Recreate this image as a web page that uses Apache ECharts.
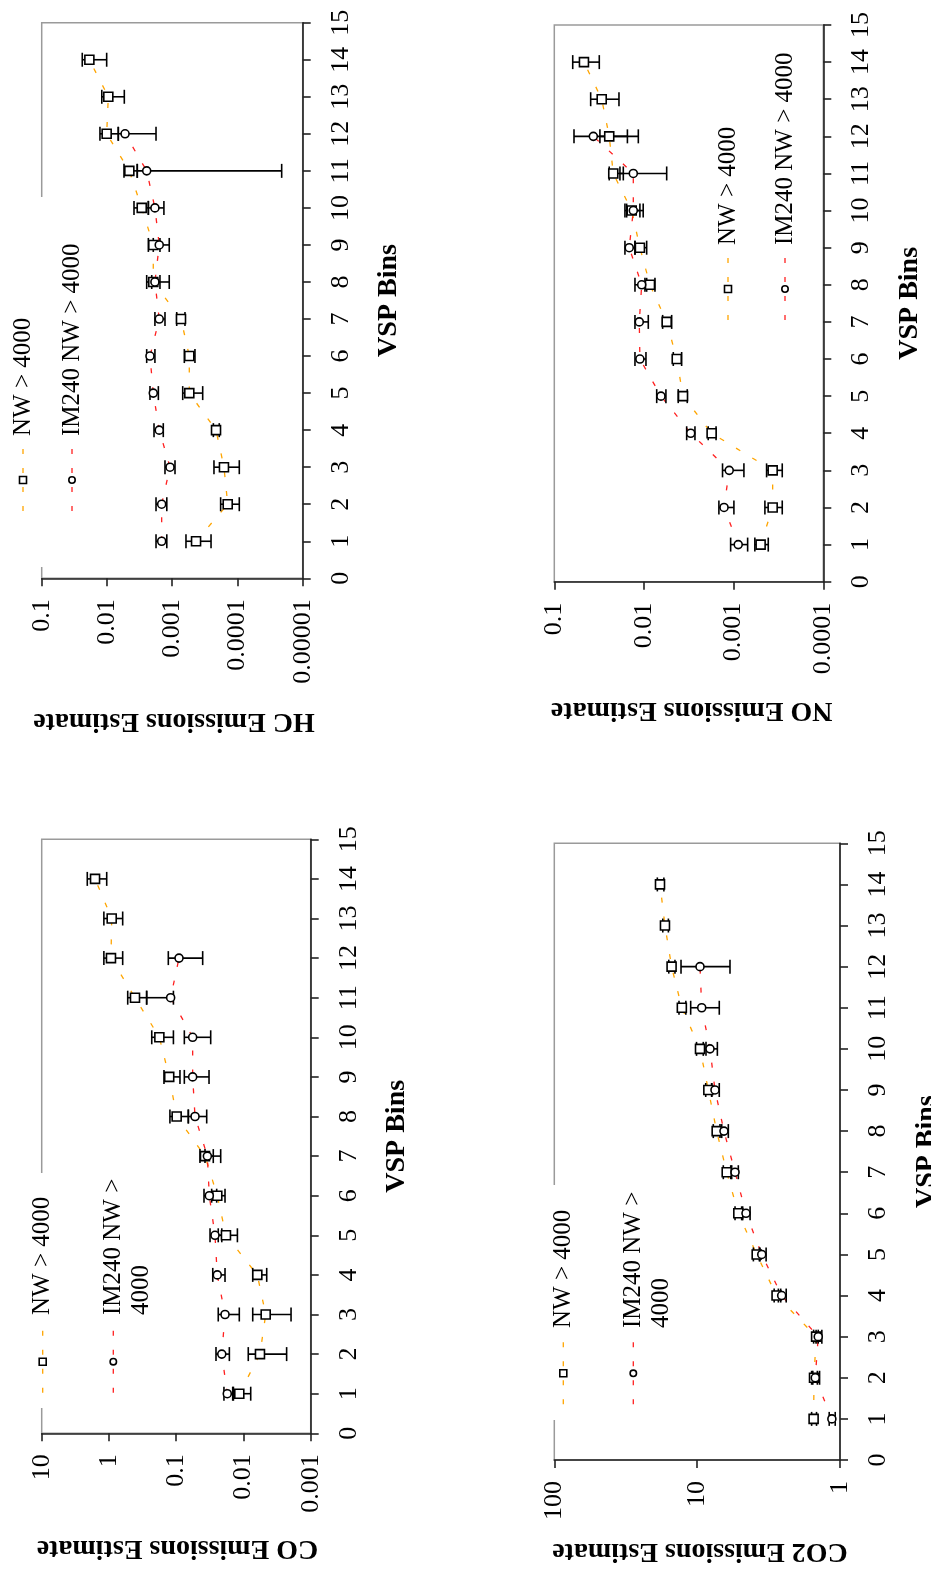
<!DOCTYPE html>
<html><head><meta charset="utf-8">
<script src="https://cdn.jsdelivr.net/npm/echarts@6/dist/echarts.min.js"></script>
<style>html,body{margin:0;padding:0;background:#fff}#main{width:931px;height:1585px}</style>
</head><body><div id="main"></div>
<script>
// ---------------- DATA ----------------
const vspNW = [1,2,3,4,5,6,7,8,9,10,11,12,13,14];
const vspIM = [1,2,3,4,5,6,7,8,9,10,11,12];
const vspTicks = ['0','1','2','3','4','5','6','7','8','9','10','11','12','13','14','15'];
const seriesNames = ['NW > 4000', 'IM240 NW > 4000'];

// HC
const hcTicks = ['0.00001','0.0001','0.001','0.01','0.1'];
const hcNW     = [0.000431,0.000141,0.000161,0.000213,0.000547,0.000547,0.000733,0.00195,0.00195,0.00293,0.00454,0.0101,0.00953,0.0186];
const hcNWLow  = [0.000254,0.0000937,0.0000937,0.000190,0.000341,0.000448,0.000637,0.00154,0.00154,0.00232,0.00343,0.0067,0.00542,0.0101];
const hcNWHigh = [0.000615,0.000181,0.000229,0.000234,0.000690,0.000652,0.000853,0.00246,0.00232,0.00385,0.00548,0.0128,0.0120,0.0239];
const hcIM     = [0.00145,0.00145,0.00108,0.00158,0.00195,0.00219,0.00158,0.00184,0.00158,0.00184,0.00246,0.00528];
const hcIMLow  = [0.00121,0.00121,0.000906,0.00137,0.00163,0.00184,0.00129,0.00111,0.00111,0.00134,0.000021,0.00177];
const hcIMHigh = [0.00177,0.00177,0.00129,0.00190,0.00219,0.00246,0.00184,0.00206,0.00195,0.00232,0.00343,0.0067];

// NO
const noTicks = ['0.0001','0.001','0.01','0.1'];
const noNW     = [0.000500,0.000367,0.000367,0.00176,0.00367,0.00431,0.00558,0.00857,0.0111,0.0137,0.0220,0.0244,0.0296,0.0467];
const noNWLow  = [0.000411,0.000287,0.000287,0.00157,0.00329,0.00380,0.00491,0.00754,0.00933,0.0102,0.0170,0.01156,0.0190,0.0315];
const noNWHigh = [0.000580,0.000448,0.000429,0.00192,0.00415,0.00471,0.00619,0.00975,0.0126,0.0163,0.0244,0.0310,0.0393,0.0623];
const noIM     = [0.000889,0.00128,0.00112,0.00301,0.00646,0.0111,0.01128,0.0106,0.0146,0.01315,0.01315,0.0367];
const noIMLow  = [0.000698,0.000993,0.000768,0.00270,0.00569,0.00950,0.00895,0.00933,0.0126,0.0111,0.00558,0.0153];
const noIMHigh = [0.00108,0.00146,0.00133,0.00334,0.00721,0.0126,0.0126,0.0126,0.0163,0.0156,0.01853,0.0603];

// CO
const coTicks = ['0.001','0.01','0.1','1','10'];
const coNW     = [0.01153,0.00568,0.00467,0.00622,0.0182,0.0245,0.0373,0.0984,0.127,0.178,0.410,0.933,0.910,1.61];
const coNWLow  = [0.0078,0.00228,0.00196,0.00451,0.0123,0.0188,0.0281,0.066,0.0879,0.110,0.275,0.625,0.625,1.08];
const coNWHigh = [0.01445,0.00848,0.00728,0.00728,0.0237,0.0297,0.0443,0.124,0.152,0.231,0.526,1.19,1.19,2.10];
const coIM     = [0.0174,0.0210,0.0188,0.0245,0.0265,0.0322,0.0344,0.0525,0.0569,0.0569,0.121,0.0908];
const coIMLow  = [0.0141,0.0162,0.01153,0.0188,0.0210,0.0250,0.0218,0.0352,0.0325,0.0307,0.110,0.0404];
const coIMHigh = [0.0195,0.0256,0.0237,0.0286,0.0314,0.0386,0.0373,0.066,0.0757,0.0757,0.275,0.131];

// CO2
const co2Ticks = ['1','10','100'];
const co2NW     = [1.53,1.52,1.47,2.78,3.83,5.15,6.21,7.30,8.35,9.55,12.8,15.1,16.8,18.2];
const co2NWLow  = [1.46,1.44,1.42,2.60,3.63,4.88,5.73,6.73,7.91,9.06,12.0,14.3,15.9,17.1];
const co2NWHigh = [1.58,1.58,1.53,2.89,4.04,5.43,6.56,7.71,8.71,10.1,13.4,15.8,17.4,19.0];
const co2IM     = [1.14,1.49,1.42,2.56,3.53,4.55,5.43,6.49,7.50,8.13,9.29,9.55];
const co2IMLow  = [1.08,1.39,1.34,2.38,3.29,4.26,5.15,6.05,7.0,7.22,7.0,5.89];
const co2IMHigh = [1.19,1.55,1.47,2.70,3.67,4.80,5.82,6.92,7.91,8.67,11.1,12.97];

// ---------------- LAYOUT ----------------
const FONT = 'Liberation Serif';
const ORANGE = '#FFA500', RED = '#FF2020';
const panels = [
  {title:'HC Emissions Estimate', ticks:hcTicks, min:1e-5, max:0.1,
   nw:[hcNW,hcNWLow,hcNWHigh], im:[hcIM,hcIMLow,hcIMHigh],
   grid:{left:41.7, top:22.7, width:261, height:555.6}, titleX:174, titleY:721.7,
   leg:{nwX:23, imX:72, im2X:null, symY:480, txtY:436, rect:[6,197,84,370]}},
  {title:'NO Emissions Estimate', ticks:noTicks, min:1e-4, max:0.1,
   nw:[noNW,noNWLow,noNWHigh], im:[noIM,noIMLow,noIMHigh],
   grid:{left:554.3, top:25, width:269, height:556.7}, titleX:691.7, titleY:710,
   leg:{nwX:728, imX:785, im2X:null, symY:289, txtY:245, rect:null}},
  {title:'CO Emissions Estimate', ticks:coTicks, min:1e-3, max:10,
   nw:[coNW,coNWLow,coNWHigh], im:[coIM,coIMLow,coIMHigh],
   grid:{left:41.7, top:839.3, width:269, height:594}, titleX:177.5, titleY:1548.3,
   leg:{nwX:42.7, imX:113.3, im2X:141.7, symY:1361.7, txtY:1315, rect:[18,1173,140,235]}},
  {title:'CO2 Emissions Estimate', ticks:co2Ticks, min:1, max:100,
   nw:[co2NW,co2NWLow,co2NWHigh], im:[co2IM,co2IMLow,co2IMHigh],
   grid:{left:554.3, top:843.3, width:285.7, height:616.7}, titleX:700, titleY:1551.7,
   leg:{nwX:563.3, imX:633.3, im2X:661.7, symY:1373.3, txtY:1328, rect:[538,1185,140,235]}}
];

const grids = [], xAxes = [], yAxes = [], series = [], graphics = [];
const axisColor = '#222';

function errBars(i, lo, hi, vsp) {
  return {
    type:'custom', xAxisIndex:i, yAxisIndex:i, silent:true, z:3,
    data: vsp.map((b,k)=>[lo[k], hi[k], b]),
    encode:{x:[0,1], y:2},
    renderItem:(params, api)=>{
      const p1 = api.coord([api.value(0), api.value(2)]);
      const p2 = api.coord([api.value(1), api.value(2)]);
      const h = 7, st = {stroke:'#000', lineWidth:1.6};
      return {type:'group', children:[
        {type:'line', shape:{x1:p1[0],y1:p1[1],x2:p2[0],y2:p2[1]}, style:st},
        {type:'line', shape:{x1:p1[0],y1:p1[1]-h,x2:p1[0],y2:p1[1]+h}, style:st},
        {type:'line', shape:{x1:p2[0],y1:p2[1]-h,x2:p2[0],y2:p2[1]+h}, style:st}
      ]};
    }
  };
}
function dashLine(i, vals, vsp, color, name) {
  return {type:'line', name, xAxisIndex:i, yAxisIndex:i, silent:true, z:2,
    data: vsp.map((b,k)=>[vals[k], b]), symbol:'none', showSymbol:false,
    lineStyle:{color, width:1.3, type:[5,14]}};
}
function points(i, vals, vsp, symbol, size, name) {
  return {type:'scatter', name, xAxisIndex:i, yAxisIndex:i, silent:true, z:4,
    data: vsp.map((b,k)=>[vals[k], b]), symbol, symbolSize:size,
    itemStyle:{color:'#fff', borderColor:'#000', borderWidth:1.6, opacity:1}};
}

panels.forEach((p, i) => {
  grids.push(Object.assign({show:true, borderColor:'#9a9a9a', borderWidth:1.5, backgroundColor:'transparent', containLabel:false}, p.grid));
  xAxes.push({
    gridIndex:i, type:'log', logBase:10, min:p.min, max:p.max, inverse:true, position:'bottom',
    axisLine:{show:true, onZero:false, lineStyle:{color:axisColor, width:1.6}},
    axisTick:{show:true, inside:false, length:8, lineStyle:{color:axisColor, width:1.6}},
    minorTick:{show:false}, splitLine:{show:false},
    axisLabel:{show:true, rotate:90, margin:21, color:'#000', fontFamily:FONT, fontSize:26,
      showMinLabel:true, showMaxLabel:true,
      formatter:(v)=>{ const t = p.ticks.find(s=>Math.abs(Math.log10(parseFloat(s))-Math.log10(v))<1e-6); return t||''; }}
  });
  yAxes.push({
    gridIndex:i, type:'value', min:0, max:15, interval:1, position:'right',
    axisLine:{show:true, onZero:false, lineStyle:{color:axisColor, width:1.6}},
    axisTick:{show:true, inside:false, length:8, lineStyle:{color:axisColor, width:1.6}},
    splitLine:{show:false},
    axisLabel:{show:true, rotate:90, margin:25, color:'#000', fontFamily:FONT, fontSize:26,
      showMinLabel:true, showMaxLabel:true, formatter:(v)=>vspTicks[Math.round(v)]}
  });
  series.push(dashLine(i, p.nw[0], vspNW, ORANGE, seriesNames[0]));
  series.push(dashLine(i, p.im[0], vspIM, RED, seriesNames[1]));
  series.push(errBars(i, p.nw[1], p.nw[2], vspNW));
  series.push(errBars(i, p.im[1], p.im[2], vspIM));
  series.push(points(i, p.nw[0], vspNW, 'rect', 9, seriesNames[0]));
  series.push(points(i, p.im[0], vspIM, 'circle', 8, seriesNames[1]));

  // axis titles
  graphics.push({type:'text', x:p.titleX, y:p.titleY, rotation:Math.PI, z:10,
    style:{text:p.title, fill:'#000', fontFamily:FONT, fontSize:28, fontWeight:'bold', textAlign:'center', textVerticalAlign:'middle'}});
  const axX = p.grid.left + p.grid.width;
  graphics.push({type:'text', x:axX + 86.3, y:p.grid.top + p.grid.height/2, rotation:Math.PI/2, z:10,
    style:{text:'VSP Bins', fill:'#000', fontFamily:FONT, fontSize:28, fontWeight:'bold', textAlign:'center', textVerticalAlign:'middle'}});

  // legend
  const L = p.leg;
  if (L.rect) graphics.push({type:'rect', z:1, shape:{x:L.rect[0], y:L.rect[1], width:L.rect[2], height:L.rect[3]}, style:{fill:'#fff', stroke:null}});
  [[L.nwX, ORANGE, 'rect'], [L.imX, RED, 'circle']].forEach(([x, col, sym]) => {
    graphics.push({type:'line', z:11, shape:{x1:x, y1:L.symY-31, x2:x, y2:L.symY+31}, style:{stroke:col, lineWidth:1.3, lineDash:[5,14]}});
    if (sym === 'rect') graphics.push({type:'rect', z:12, shape:{x:x-3.5, y:L.symY-3.5, width:7, height:7}, style:{fill:'#fff', stroke:'#000', lineWidth:1.6}});
    else graphics.push({type:'circle', z:12, shape:{cx:x, cy:L.symY, r:3.2}, style:{fill:'#fff', stroke:'#000', lineWidth:1.6}});
  });
  const txt = (x, t) => graphics.push({type:'text', x, y:L.txtY, rotation:Math.PI/2, z:12,
    style:{text:t, fill:'#000', fontFamily:FONT, fontSize:25, textAlign:'left', textVerticalAlign:'middle'}});
  txt(L.nwX, seriesNames[0]);
  if (L.im2X) { txt(L.imX, 'IM240 NW >'); txt(L.im2X, '4000'); }
  else txt(L.imX, seriesNames[1]);
});

const chart = echarts.init(document.getElementById('main'), null, {renderer:'canvas'});
chart.setOption({
  animation:false, backgroundColor:'#fff',
  grid:grids, xAxis:xAxes, yAxis:yAxes, series, graphic:{elements:graphics}
});
</script></body></html>
